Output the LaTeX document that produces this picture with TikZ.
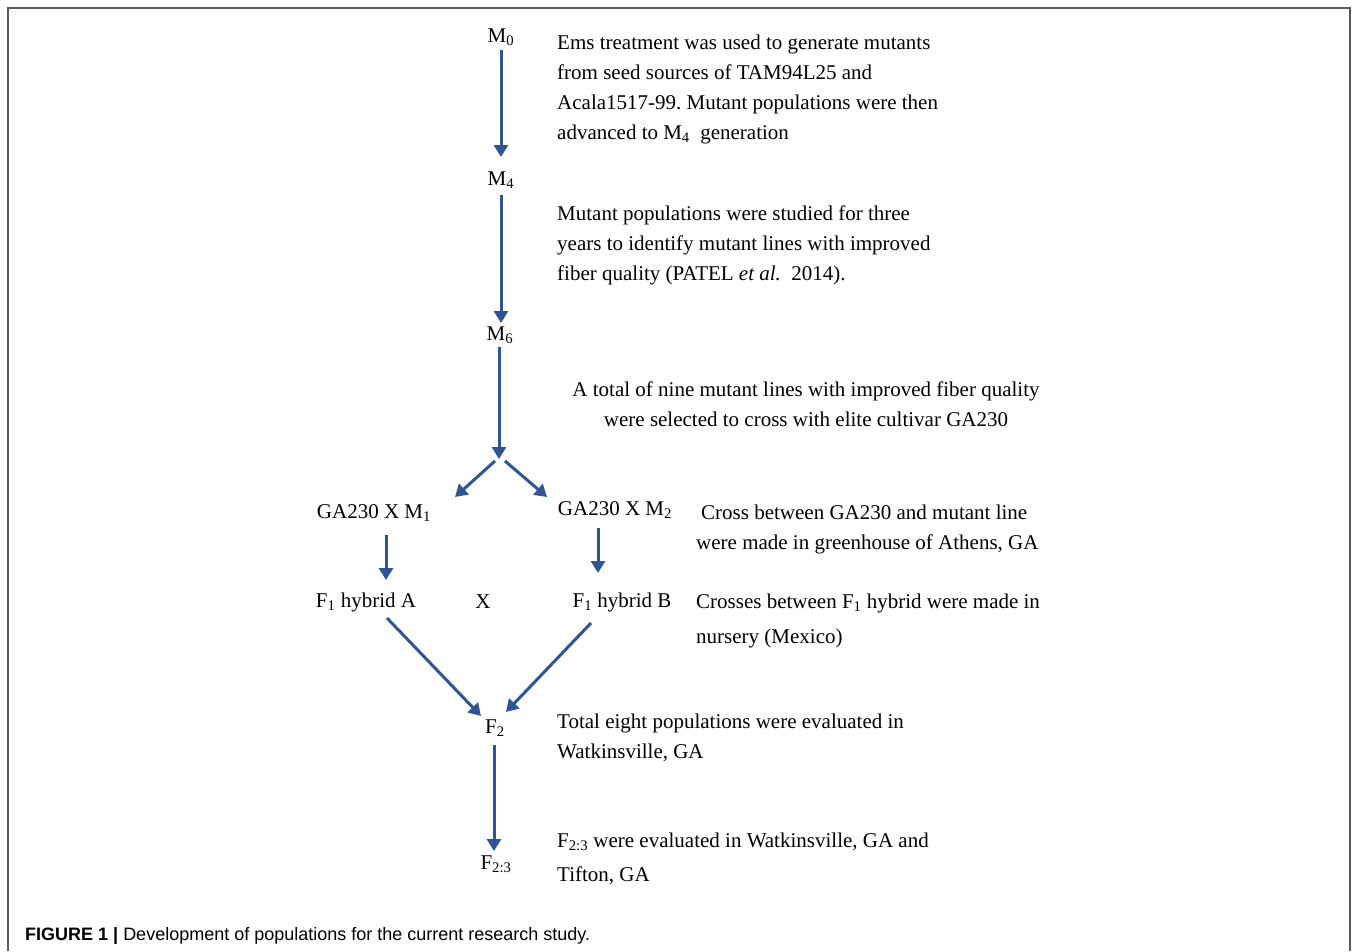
\documentclass[tikz,border=0pt]{standalone}
\usepackage{fontspec}
\setmainfont{Liberation Serif}
\newfontfamily\capfont{Liberation Sans}
\usetikzlibrary{arrows.meta,calc}
\frenchspacing
\definecolor{arrowblue}{RGB}{47,85,151}
\definecolor{framegray}{RGB}{90,90,90}
\tikzset{
  arr/.style={draw=arrowblue, line width=3pt, -{Triangle[length=12pt,width=14pt]}},
  lab/.style={inner sep=0pt, anchor=base, font=\fontsize{21}{30}\selectfont},
  txt/.style={inner sep=0pt, anchor=base west, font=\fontsize{21}{30}\selectfont},
  ctxt/.style={inner sep=0pt, anchor=base, font=\fontsize{21}{30}\selectfont},
}
\begin{document}
\begin{tikzpicture}[x=1pt,y=-1pt]
\useasboundingbox (0,0) rectangle (1358,951);
\fill[white] (0,0) rectangle (1358,951);
\draw[framegray, line width=2pt] (8,951) -- (8,8) -- (1350,8) -- (1350,951);

% generation labels
\node[lab] (M0) at (501,42) {M\textsubscript{0}};
\node[lab] (M4) at (501,185) {M\textsubscript{4}};
\node[lab] (M6) at (500,340) {M\textsubscript{6}};
\coordinate (split) at (499,459);
\node[lab] (GA1) at (374,518) {GA230 X M\textsubscript{1}};
\node[lab] (GA2) at (615,515) {GA230 X M\textsubscript{2}};
\node[lab] (F1A) at (366,607) {F\textsubscript{1} hybrid A};
\node[lab] (X) at (483,608) {X};
\node[lab] (F1B) at (622,607) {F\textsubscript{1} hybrid B};
\node[lab] (F2) at (495,733) {F\textsubscript{2}};
\node[lab] (F23) at (496,869) {F\textsubscript{2:3}};

% arrows
\draw[arr] ($(M0.base)+(0,8)$) -- ($(M4.base)+(0,-28)$);
\draw[arr] ($(M4.base)+(0,10)$) -- ($(M6.base)+(1,-17)$);
\draw[arr] ($(M6.base)+(-1,7)$) -- (split);
\draw[arr] ($(split)+(-4,2)$) -- ($(GA1.base)+(81,-21)$);
\draw[arr] ($(split)+(6,2)$) -- ($(GA2.base)+(-68,-18)$);
\draw[arr] ($(GA1.base)+(12,17)$) -- ($(F1A.base)+(20,-27)$);
\draw[arr] ($(GA2.base)+(-17,13)$) -- ($(F1B.base)+(-24,-34)$);
\draw[arr] ($(F1A.base)+(21,11)$) -- ($(F2.base)+(-14,-17)$);
\draw[arr] ($(F1B.base)+(-31,16)$) -- ($(F2.base)+(11,-21)$);
\draw[arr] ($(F2.base)+(-1,12)$) -- ($(F23.base)+(-2,-18)$);

% descriptions
\node[txt] (t1a) at (557,49) {Ems treatment was used to generate mutants};
\node[txt] (t1b) at (557,79) {from seed sources of TAM94L25 and};
\node[txt] (t1c) at (557,109) {Acala1517-99. Mutant populations were then};
\node[txt] (t1d) at (557,139) {advanced to M\textsubscript{4}\ \ generation};

\node[txt] (t2a) at (557,220) {Mutant populations were studied for three};
\node[txt] (t2b) at (557,250) {years to identify mutant lines with improved};
\node[txt] (t2c) at (557,280) {fiber quality (PATEL \textit{et al.}\ \ 2014).};

\node[ctxt] (t3a) at (806,396) {A total of nine mutant lines with improved fiber quality};
\node[ctxt] (t3b) at (806,426) {were selected to cross with elite cultivar GA230};

\node[txt] (t4a) at (701,519) {Cross between GA230 and mutant line};
\node[txt] (t4b) at (696,549) {were made in greenhouse of Athens, GA};

\node[txt] (t5a) at (696,608) {Crosses between F\textsubscript{1} hybrid were made in};
\node[txt] (t5b) at (696,643) {nursery (Mexico)};

\node[txt] (t6a) at (557,728) {Total eight populations were evaluated in};
\node[txt] (t6b) at (557,758) {Watkinsville, GA};

\node[txt] (t7a) at (557,847) {F\textsubscript{2:3} were evaluated in Watkinsville, GA and};
\node[txt] (t7b) at (557,881) {Tifton, GA};

% caption
\node[inner sep=0pt, anchor=base west, font=\capfont\fontsize{18}{20}\selectfont] (cap) at (25,940)
  {\textbf{FIGURE 1 |} Development of populations for the current research study.};
\end{tikzpicture}
\end{document}
